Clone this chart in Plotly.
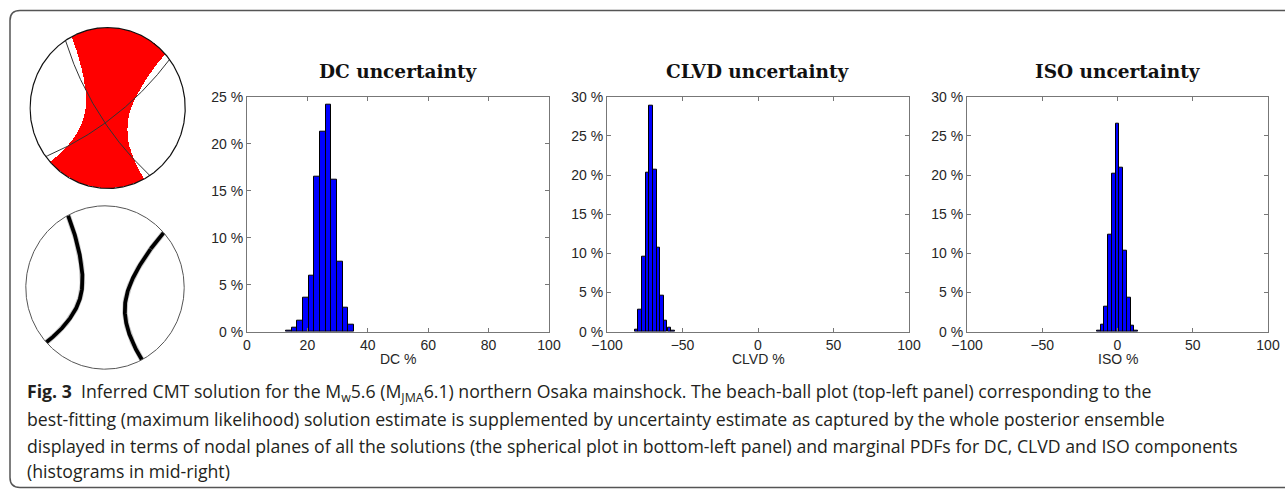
import numpy as np
import plotly.graph_objects as go

# ---------------- data ----------------
dc_centers = [13.8, 15.7, 17.6, 19.5, 21.3, 23.2, 25.1, 27.0, 28.8, 30.7, 32.6, 34.5]
dc_pct = [0.1, 0.46, 1.17, 3.6, 6.0, 16.5, 21.3, 24.2, 16.2, 7.5, 2.6, 0.7]

clvd_centers = [-80.5, -78.1, -75.7, -73.2, -70.8, -68.4, -66.0, -63.6, -61.2, -58.7, -56.3]
clvd_pct = [0.2, 2.8, 9.6, 20.3, 28.8, 20.7, 10.7, 4.6, 1.4, 0.55, 0.17]

iso_centers = [-12.5, -10.0, -7.5, -5.0, -2.5, 0.0, 2.5, 5.0, 7.5, 10.0, 12.5]
iso_pct = [0.13, 0.85, 3.2, 12.4, 20.2, 26.5, 20.9, 10.4, 4.3, 0.77, 0.13]

panel_titles = ["DC uncertainty", "CLVD uncertainty", "ISO uncertainty"]
x_titles = ["DC %", "CLVD %", "ISO %"]
dc_xticks = [0, 20, 40, 60, 80, 100]
pm_xticks = [-100, -50, 0, 50, 100]

# moment tensor principal axes (T, B, P): trend, plunge (deg), eigenvalue
axis_trend = [10.0, 190.0, 100.0]
axis_plunge = [21.5, 68.5, 0.0]
eigenvalues = [0.64, 0.36, -1.0]

caption_lines = [
    "<b>Fig. 3</b>  Inferred CMT solution for the M<sub>w</sub>5.6 (M<sub>JMA</sub>6.1) northern Osaka mainshock. The beach-ball plot (top-left panel) corresponding to the",
    "best-fitting (maximum likelihood) solution estimate is supplemented by uncertainty estimate as captured by the whole posterior ensemble",
    "displayed in terms of nodal planes of all the solutions (the spherical plot in bottom-left panel) and marginal PDFs for DC, CLVD and ISO components",
    "(histograms in mid-right)",
]

# ---------------- geometry helpers ----------------
W, H = 1285, 489


def px_x(p):
    return p / W


def px_y(p):
    return 1 - p / H


def axvec(trend, plunge):
    t, p = np.radians(trend), np.radians(plunge)
    return np.array([np.cos(p) * np.cos(t), np.cos(p) * np.sin(t), np.sin(p)])  # N, E, Down


def project(v):
    v = np.asarray(v, dtype=float)
    v = v / np.linalg.norm(v, axis=-1, keepdims=True)
    d = np.clip(v[..., 2], -1, 1)
    th = np.arccos(d)
    r = np.tan(th / 2)
    az = np.arctan2(v[..., 1], v[..., 0])
    return r * np.sin(az), r * np.cos(az)


Tv, Bv, Pv = [axvec(t, p) for t, p in zip(axis_trend, axis_plunge)]
lamT, lamB, lamP = eigenvalues
M = lamT * np.outer(Tv, Tv) + lamB * np.outer(Bv, Bv) + lamP * np.outer(Pv, Pv)

# polarity grid
N = 401
gx = np.linspace(-1, 1, N)
GX, GY = np.meshgrid(gx, gx)
R = np.sqrt(GX ** 2 + GY ** 2)
TH = 2 * np.arctan(R)
AZ = np.arctan2(GX, GY)
nv = np.stack([np.sin(TH) * np.cos(AZ), np.sin(TH) * np.sin(AZ), np.cos(TH)], axis=-1)
amp = np.einsum("...i,ij,...j->...", nv, M, nv)
Z = np.where(R <= 1.0, (amp > 0).astype(float), np.nan)

# circle outline
ct = np.linspace(0, 2 * np.pi, 721)
cx, cy = np.sin(ct), np.cos(ct)


def plane_trace(pole):
    pole = pole / np.linalg.norm(pole)
    s = np.array([-pole[1], pole[0], 0.0])
    s = s / np.linalg.norm(s)
    dv = np.cross(pole, s)
    if dv[2] < 0:
        dv = -dv
    t = np.linspace(0, np.pi, 400)
    v = np.outer(np.cos(t), s) + np.outer(np.sin(t), dv)
    return project(v)


np1 = (Tv + Pv) / np.sqrt(2)
np2 = (Tv - Pv) / np.sqrt(2)
p1x, p1y = plane_trace(np1)
p2x, p2y = plane_trace(np2)

# zero-amplitude curve of the full moment tensor (cone around P)
al = np.linspace(0, 2 * np.pi, 1441)
cone = (np.sqrt(abs(lamP) / lamT) * np.cos(al)[:, None] * Tv
        + np.sqrt(abs(lamP) / lamB) * np.sin(al)[:, None] * Bv + Pv)
cone = cone / np.linalg.norm(cone, axis=1, keepdims=True)
flip = cone[:, 2] < 0
cone[flip] = -cone[flip]
zx_, zy_ = project(cone)
zxs, zys = [], []
for i in range(len(al)):
    if i > 0 and flip[i] != flip[i - 1]:
        zxs.append(None)
        zys.append(None)
    zxs.append(zx_[i])
    zys.append(zy_[i])

fig = go.Figure()

# ---------------- beach ball (top) ----------------
fig.add_trace(go.Heatmap(x=gx, y=gx, z=Z, colorscale=[[0, "white"], [1, "#ff0000"]],
                         zmin=0, zmax=1, showscale=False, xaxis="x4", yaxis="y4",
                         hoverinfo="skip"))
for px_, py_ in [(p1x, p1y), (p2x, p2y)]:
    fig.add_trace(go.Scatter(x=px_, y=py_, mode="lines", line=dict(color="#333", width=1),
                             xaxis="x4", yaxis="y4", showlegend=False, hoverinfo="skip"))
fig.add_trace(go.Scatter(x=cx, y=cy, mode="lines", line=dict(color="#111", width=1.2),
                         xaxis="x4", yaxis="y4", showlegend=False, hoverinfo="skip"))

# ---------------- ensemble nodal lines (bottom) ----------------
fig.add_trace(go.Scatter(x=zxs, y=zys, mode="lines", line=dict(color="#c8c8c8", width=5.5),
                         xaxis="x5", yaxis="y5", showlegend=False, hoverinfo="skip"))
fig.add_trace(go.Scatter(x=zxs, y=zys, mode="lines", line=dict(color="#000", width=3.8),
                         xaxis="x5", yaxis="y5", showlegend=False, hoverinfo="skip"))
fig.add_trace(go.Scatter(x=cx, y=cy, mode="lines", line=dict(color="#555", width=1),
                         xaxis="x5", yaxis="y5", showlegend=False, hoverinfo="skip"))

# ---------------- histograms ----------------
bar_style = dict(marker=dict(color="#0000ff", line=dict(color="#000", width=1)), showlegend=False)
fig.add_trace(go.Bar(x=dc_centers, y=dc_pct, width=1.87, xaxis="x", yaxis="y", **bar_style))
fig.add_trace(go.Bar(x=clvd_centers, y=clvd_pct, width=2.42, xaxis="x2", yaxis="y2", **bar_style))
fig.add_trace(go.Bar(x=iso_centers, y=iso_pct, width=2.5, xaxis="x3", yaxis="y3", **bar_style))

tick_font = dict(family="Liberation Sans, Arial, sans-serif", size=14, color="#262626")
ax_common = dict(showline=True, linecolor="#777", linewidth=1, mirror="ticks", ticks="inside",
                 ticklen=4, tickcolor="#777", showgrid=False, zeroline=False, tickfont=tick_font,
                 automargin=False)
hidden = dict(visible=False, showticklabels=False, showgrid=False, zeroline=False,
              automargin=False, fixedrange=True)

ydom = [px_y(331.7), px_y(96.7)]
xdoms = [[px_x(247), px_x(549)], [px_x(607), px_x(909)], [px_x(967), px_x(1268)]]

layout = dict(
    width=W, height=H, margin=dict(l=0, r=0, t=0, b=0, pad=0, autoexpand=False), autosize=False,
    paper_bgcolor="white", plot_bgcolor="white", bargap=0, showlegend=False,
    xaxis=dict(domain=xdoms[0], range=[0, 100], tickvals=dc_xticks, anchor="y", **ax_common),
    yaxis=dict(domain=ydom, range=[0, 25], dtick=5, ticksuffix=" %", anchor="x", **ax_common),
    xaxis2=dict(domain=xdoms[1], range=[-100, 100], tickvals=pm_xticks, anchor="y2", **ax_common),
    yaxis2=dict(domain=ydom, range=[0, 30], dtick=5, ticksuffix=" %", anchor="x2", **ax_common),
    xaxis3=dict(domain=xdoms[2], range=[-100, 100], tickvals=pm_xticks, anchor="y3", **ax_common),
    yaxis3=dict(domain=ydom, range=[0, 30], dtick=5, ticksuffix=" %", anchor="x3", **ax_common),
    xaxis4=dict(domain=[px_x(29.3), px_x(186)], range=[-1.01, 1.01], anchor="y4", **hidden),
    yaxis4=dict(domain=[px_y(189.3), px_y(26.7)], range=[-1.01, 1.01], anchor="x4", **hidden),
    xaxis5=dict(domain=[px_x(25), px_x(185)], range=[-1.01, 1.01], anchor="y5", **hidden),
    yaxis5=dict(domain=[px_y(370), px_y(205)], range=[-1.01, 1.01], anchor="x5", **hidden),
)
fig.update_layout(**layout)

# panel titles and x-axis titles
title_font = dict(family="DejaVu Serif, Liberation Serif, serif", size=18.5, color="#111")
for dom, txt, xt in zip(xdoms, panel_titles, x_titles):
    xc = (dom[0] + dom[1]) / 2
    fig.add_annotation(text="<b>" + txt + "</b>", x=xc, y=px_y(84),
                       xref="paper", yref="paper", xanchor="center", yanchor="bottom",
                       showarrow=False, font=title_font)
    fig.add_annotation(text=xt, x=xc, y=px_y(359), xref="paper", yref="paper",
                       xanchor="center", yanchor="middle", showarrow=False, font=tick_font)

# caption
cap_font = dict(family="Open Sans, Lato, sans-serif", size=17.7, color="#231f20")
for i, (line, ypx) in enumerate(zip(caption_lines, [392, 419, 446, 471])):
    fig.add_annotation(text=line, x=px_x(25), y=px_y(ypx), xref="paper", yref="paper",
                       xanchor="left", yanchor="middle", showarrow=False, font=cap_font)

# outer rounded frame (left, top and bottom edges; right edge runs off the page)
r = 10
x0, y0, x1, y1 = 10, 10.5, 1285, 487.5
path = (f"M {x0 + r},{y0} L {x1},{y0} M {x0},{y0 + r} Q {x0},{y0} {x0 + r},{y0} "
        f"M {x0},{y0 + r} L {x0},{y1 - r} Q {x0},{y1} {x0 + r},{y1} L {x1},{y1}")


def conv(pth):
    out = []
    for tok in pth.split():
        if "," in tok:
            a, b = tok.split(",")
            out.append(f"{float(a) / W:.6f},{1 - float(b) / H:.6f}")
        else:
            out.append(tok)
    return " ".join(out)


fig.add_shape(type="path", path=conv(path), xref="paper", yref="paper",
              line=dict(color="#555", width=1.5))

fig.write_html("out.html", config={"responsive": False})
